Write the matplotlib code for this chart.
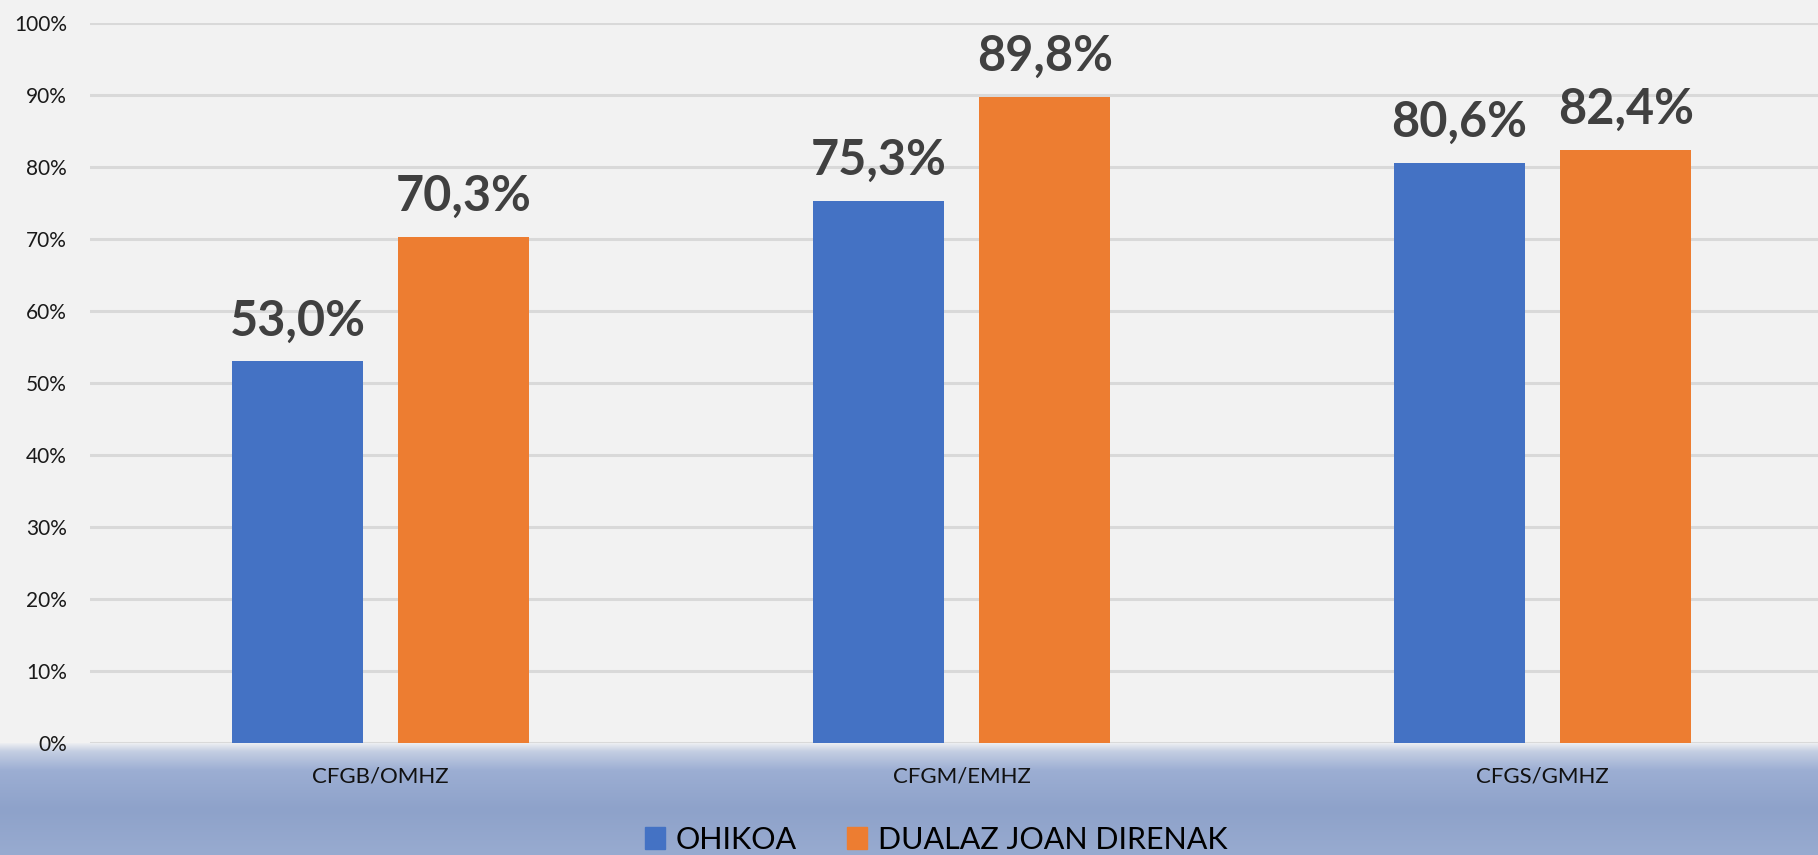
import numpy as np
import matplotlib
matplotlib.use('Agg')
import matplotlib.pyplot as plt
from matplotlib.patches import Patch
from matplotlib.colors import to_rgb

# Data
categories = ['CFGB/OMHZ', 'CFGM/EMHZ', 'CFGS/GMHZ']
series_names = ['OHIKOA', 'DUALAZ JOAN DIRENAK']
ohikoa = [53.0, 75.3, 80.6]
dualaz = [70.3, 89.8, 82.4]
y_ticks = [0, 10, 20, 30, 40, 50, 60, 70, 80, 90, 100]

blue = '#4472C4'
orange = '#ED7D31'
bg = '#F2F2F2'

plt.rcParams['font.family'] = ['Lato', 'DejaVu Sans']

fig = plt.figure(figsize=(18.18, 8.55), dpi=100)
fig.patch.set_facecolor(bg)

# bluish strip at the bottom (water picture behind the chart)
bax = fig.add_axes([0, 0, 1, 0.131], zorder=0)
stops = np.array([0.0, 0.08, 0.25, 0.6, 1.0])
cols = np.array([to_rgb(c) for c in ['#F0F1F3', '#C4CEE2', '#9CAED3', '#8EA2CA', '#98ABD0']])
t = np.linspace(0, 1, 120)
grad = np.stack([np.interp(t, stops, cols[:, i]) for i in range(3)], axis=1)
img = np.repeat(grad[:, None, :], 400, axis=1)
bax.imshow(img, aspect='auto', extent=[0, 1, 0, 1], origin='upper')
bax.set_axis_off()

ax = fig.add_axes([90 / 1818, 0.131, 1 - 90 / 1818, 0.842], zorder=1)
ax.set_facecolor('none')

x = np.arange(len(categories))
w = 0.225
off = 0.143
b1 = ax.bar(x - off, ohikoa, w, color=blue, zorder=3)
b2 = ax.bar(x + off, dualaz, w, color=orange, zorder=3)

for bars, vals in [(b1, ohikoa), (b2, dualaz)]:
    for rect, v in zip(bars, vals):
        ax.annotate(f'{v:.1f}%'.replace('.', ','),
                    (rect.get_x() + rect.get_width() / 2, v),
                    xytext=(0, 13), textcoords='offset points',
                    ha='center', va='bottom', fontsize=35,
                    fontweight='bold', color='#404040')

ax.set_ylim(0, 100)
ax.set_xlim(-0.5, 2.474)
ax.set_yticks(y_ticks)
ax.set_yticklabels([f'{v}%' for v in y_ticks])
ax.set_xticks(x)
ax.set_xticklabels(categories)
ax.tick_params(axis='y', length=0, pad=16.5, labelsize=15, labelcolor='#1a1a1a')
ax.tick_params(axis='x', length=0, pad=17, labelsize=16, labelcolor='#111111')
ax.grid(axis='y', color='#D9D9D9', linewidth=2.2, zorder=0)
for s in ax.spines.values():
    s.set_visible(False)
ax.set_axisbelow(True)

handles = [Patch(color=blue), Patch(color=orange)]
leg = fig.legend(handles, series_names, loc='center', bbox_to_anchor=(0.515, 0.018),
                 ncol=2, frameon=False, fontsize=22, handlelength=0.65,
                 handleheight=0.72, handletextpad=0.36, columnspacing=1.64)
for txt in leg.get_texts():
    txt.set_color('#000000')

fig.savefig('out.png', dpi=100, facecolor=fig.get_facecolor())
